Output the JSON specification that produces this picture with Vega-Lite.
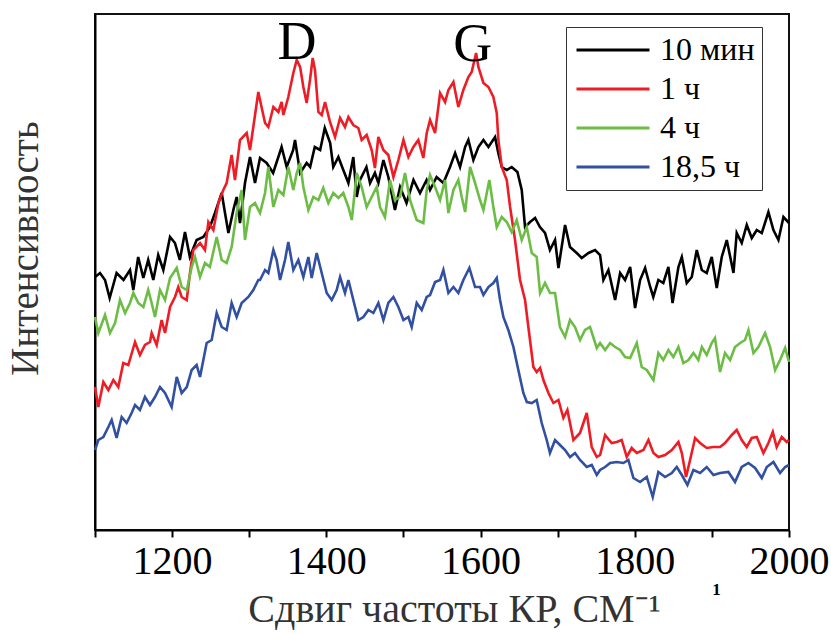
{
  "$schema": "https://vega.github.io/schema/vega-lite/v6.json",
  "width": 694,
  "height": 516,
  "autosize": {"type": "none"},
  "padding": {"left": 95, "top": 14, "right": 42, "bottom": 104},
  "background": "white",
  "config": {
    "font": "Liberation Serif",
    "view": {"stroke": "#111", "strokeWidth": 2}
  },
  "datasets": {
    "k": [
      {"x":1100,"y":253},{"x":1106.5,"y":257},{"x":1113,"y":250},{"x":1119,"y":232},{"x":1128,"y":257},{"x":1137,"y":250},{"x":1145.4,"y":260},{"x":1149.7,"y":240},{"x":1156,"y":273},{"x":1162.7,"y":252},{"x":1169,"y":270},{"x":1175.6,"y":250},{"x":1182,"y":275},{"x":1188.6,"y":260},{"x":1197.3,"y":293},{"x":1203.7,"y":287},{"x":1210,"y":270},{"x":1216.7,"y":298},{"x":1223,"y":273},{"x":1231.8,"y":290},{"x":1240.5,"y":293},{"x":1249,"y":303},{"x":1255.6,"y":317},{"x":1264.3,"y":337},{"x":1268.6,"y":317},{"x":1273,"y":297},{"x":1279.4,"y":320},{"x":1283.7,"y":333},{"x":1288,"y":307},{"x":1294.5,"y":347},{"x":1301,"y":373},{"x":1307.5,"y":347},
      {"x":1314,"y":372},{"x":1322.6,"y":367},{"x":1331,"y":357},{"x":1342,"y":383},{"x":1348.6,"y":363},{"x":1357,"y":380},{"x":1359.4,"y":390},{"x":1366,"y":357},{"x":1374.5,"y":367},{"x":1379,"y":363},{"x":1385,"y":383},{"x":1392,"y":380},{"x":1398,"y":402},{"x":1405,"y":387},{"x":1409,"y":363},{"x":1415.6,"y":373},{"x":1422,"y":360},{"x":1428.6,"y":347},{"x":1435,"y":373},{"x":1439.4,"y":333},{"x":1443.7,"y":350},{"x":1452,"y":363},{"x":1456.7,"y":347},{"x":1463,"y":357},{"x":1467.5,"y":347},{"x":1474,"y":370},{"x":1480.4,"y":353},{"x":1489,"y":320},{"x":1495.6,"y":343},{"x":1504,"y":327},{"x":1513,"y":350},{"x":1521.5,"y":337},{"x":1530,"y":350},
      {"x":1534.5,"y":340},{"x":1543,"y":353},{"x":1551.8,"y":347},{"x":1560.4,"y":363},{"x":1567,"y":377},{"x":1573.4,"y":363},{"x":1580,"y":383},{"x":1584.2,"y":390},{"x":1590.7,"y":370},{"x":1597.2,"y":383},{"x":1603.7,"y":390},{"x":1610.2,"y":383},{"x":1618.8,"y":393},{"x":1623,"y":377},{"x":1627.5,"y":363},{"x":1634,"y":360},{"x":1640.4,"y":363},{"x":1647.8,"y":358},{"x":1653.4,"y":340},{"x":1657.7,"y":303},{"x":1664.2,"y":308},{"x":1670.7,"y":312},{"x":1677,"y":303},{"x":1683.6,"y":297},{"x":1690,"y":280},{"x":1696.6,"y":290},{"x":1701,"y":262},{"x":1709.6,"y":305},{"x":1716,"y":283},{"x":1724.7,"y":277},{"x":1731.2,"y":272},{"x":1740,"y":277},{"x":1748.5,"y":280},
      {"x":1755,"y":275},{"x":1759.3,"y":250},{"x":1765.8,"y":260},{"x":1774.5,"y":230},{"x":1781,"y":257},{"x":1787.4,"y":250},{"x":1794,"y":263},{"x":1800.4,"y":222},{"x":1806.9,"y":250},{"x":1813.4,"y":262},{"x":1820,"y":243},{"x":1824,"y":233},{"x":1830.6,"y":250},{"x":1837,"y":247},{"x":1843.6,"y":263},{"x":1849,"y":227},{"x":1856.6,"y":263},{"x":1861,"y":273},{"x":1867.4,"y":247},{"x":1873.9,"y":253},{"x":1880.4,"y":280},{"x":1886.9,"y":260},{"x":1893.3,"y":257},{"x":1899.8,"y":273},{"x":1906.3,"y":242},{"x":1912.8,"y":273},{"x":1919.3,"y":290},{"x":1928,"y":257},{"x":1932.2,"y":297},{"x":1938.7,"y":287},{"x":1945.2,"y":305},{"x":1951.7,"y":292},{"x":1958.2,"y":300},{"x":1964.7,"y":297},{"x":1973.3,"y":318},{"x":1979.8,"y":300},{"x":1986.3,"y":290},{"x":1992.8,"y":313},{"x":2000,"y":307}
    ],
    "r": [
      {"x":1100,"y":143},{"x":1104.3,"y":123},{"x":1110.8,"y":148},{"x":1117.3,"y":140},{"x":1123.8,"y":150},{"x":1130.2,"y":143},{"x":1136.7,"y":167},{"x":1143.2,"y":165},{"x":1151.9,"y":188},{"x":1158.3,"y":175},{"x":1164.8,"y":185},{"x":1171.3,"y":188},{"x":1173.5,"y":197},{"x":1180,"y":185},{"x":1186.4,"y":210},{"x":1190.8,"y":197},{"x":1197.3,"y":223},{"x":1203.7,"y":233},{"x":1208,"y":243},{"x":1212.4,"y":233},{"x":1218.9,"y":230},{"x":1223.2,"y":257},{"x":1227.5,"y":280},{"x":1236.2,"y":287},{"x":1242.6,"y":280},{"x":1247,"y":308},{"x":1253.5,"y":300},{"x":1260,"y":327},{"x":1266.4,"y":340},{"x":1270.7,"y":347},{"x":1277.2,"y":375},{"x":1281.5,"y":350},{"x":1288,"y":390},{"x":1296.7,"y":397},{"x":1301,"y":380},{"x":1305.3,"y":403},{"x":1311.8,"y":438},
      {"x":1314,"y":430},{"x":1320.5,"y":407},{"x":1324.8,"y":403},{"x":1331.3,"y":423},{"x":1337.8,"y":418},{"x":1342,"y":428},{"x":1344.3,"y":415},{"x":1350.7,"y":433},{"x":1357.2,"y":457},{"x":1361.6,"y":470},{"x":1366,"y":463},{"x":1370.2,"y":443},{"x":1374.5,"y":427},{"x":1378.8,"y":450},{"x":1382.3,"y":472},{"x":1385.3,"y":460},{"x":1389.7,"y":418},{"x":1394,"y":415},{"x":1398.3,"y":428},{"x":1404.8,"y":408},{"x":1411.3,"y":393},{"x":1417.8,"y":412},{"x":1424.2,"y":403},{"x":1428.6,"y":413},{"x":1435,"y":405},{"x":1441.5,"y":402},{"x":1445.8,"y":390},{"x":1452.3,"y":395},{"x":1458.8,"y":380},{"x":1463,"y":362},{"x":1467.5,"y":393},{"x":1474,"y":380},{"x":1480.4,"y":375},{"x":1487,"y":353},{"x":1493.4,"y":370},{"x":1500,"y":390},{"x":1506.4,"y":373},{"x":1512.9,"y":383},{"x":1519.3,"y":390},{"x":1525.8,"y":372},{"x":1530.2,"y":397},
      {"x":1534.5,"y":410},{"x":1541,"y":397},{"x":1547.5,"y":437},{"x":1554,"y":428},{"x":1558.3,"y":440},{"x":1564.8,"y":448},{"x":1571.2,"y":423},{"x":1577.7,"y":440},{"x":1584.2,"y":453},{"x":1588.5,"y":458},{"x":1594.2,"y":477},{"x":1597.2,"y":463},{"x":1603.7,"y":447},{"x":1610.2,"y":443},{"x":1616.6,"y":433},{"x":1621,"y":417},{"x":1623.1,"y":390},{"x":1627.5,"y":363},{"x":1634,"y":350},{"x":1638.3,"y":323},{"x":1644.7,"y":290},{"x":1651.2,"y":250},{"x":1657.7,"y":230},{"x":1662,"y":203},{"x":1668.5,"y":163},{"x":1672.8,"y":158},{"x":1677.2,"y":162},{"x":1681.5,"y":150},{"x":1688,"y":137},{"x":1694.5,"y":127},{"x":1701,"y":130},{"x":1707.4,"y":112},{"x":1712.6,"y":120},{"x":1720.4,"y":90},{"x":1729,"y":97},{"x":1737.7,"y":117},{"x":1744.2,"y":83},{"x":1750.7,"y":73},
      {"x":1755,"y":75},{"x":1761.5,"y":95},{"x":1770,"y":87},{"x":1776.6,"y":88},{"x":1783,"y":90},{"x":1789.6,"y":73},{"x":1796,"y":82},{"x":1802.6,"y":77},{"x":1811.2,"y":80},{"x":1817.7,"y":90},{"x":1824.2,"y":77},{"x":1830.6,"y":73},{"x":1839.3,"y":75},{"x":1848,"y":80},{"x":1856.6,"y":88},{"x":1861,"y":77},{"x":1866.5,"y":53},{"x":1871.7,"y":70},{"x":1878.2,"y":92},{"x":1884.7,"y":87},{"x":1893.3,"y":82},{"x":1902,"y":83},{"x":1910.6,"y":83},{"x":1917,"y":87},{"x":1925.8,"y":95},{"x":1932.2,"y":100},{"x":1938.7,"y":90},{"x":1945.2,"y":83},{"x":1951.7,"y":92},{"x":1958.2,"y":93},{"x":1966.8,"y":77},{"x":1973.3,"y":87},{"x":1979,"y":98},{"x":1984,"y":83},{"x":1990.6,"y":93},{"x":1997,"y":88},{"x":2000,"y":90}
    ],
    "g": [
      {"x":1100,"y":213},{"x":1104.3,"y":197},{"x":1113,"y":215},{"x":1119.4,"y":197},{"x":1126,"y":207},{"x":1132.4,"y":230},{"x":1139,"y":217},{"x":1145.4,"y":227},{"x":1149.7,"y":237},{"x":1156.2,"y":227},{"x":1162.7,"y":223},{"x":1169,"y":240},{"x":1173.5,"y":227},{"x":1177.8,"y":213},{"x":1184.3,"y":240},{"x":1190.8,"y":230},{"x":1197.3,"y":252},{"x":1206,"y":262},{"x":1212.4,"y":243},{"x":1219,"y":240},{"x":1225.4,"y":263},{"x":1229.7,"y":273},{"x":1236.2,"y":253},{"x":1242.6,"y":267},{"x":1249,"y":263},{"x":1257.8,"y":293},{"x":1264.3,"y":270},{"x":1270.7,"y":267},{"x":1277.2,"y":283},{"x":1283.7,"y":317},{"x":1290.2,"y":340},{"x":1294.5,"y":290},{"x":1301,"y":323},{"x":1307.5,"y":327},
      {"x":1314,"y":317},{"x":1320.5,"y":337},{"x":1324.8,"y":363},{"x":1331.3,"y":323},{"x":1337.8,"y":340},{"x":1344.3,"y":335},{"x":1350.7,"y":363},{"x":1357.2,"y":340},{"x":1361.6,"y":357},{"x":1366,"y":367},{"x":1370.2,"y":343},{"x":1376.7,"y":320},{"x":1383.2,"y":333},{"x":1389.7,"y":330},{"x":1396,"y":342},{"x":1402.6,"y":327},{"x":1409,"y":337},{"x":1415.6,"y":332},{"x":1422,"y":337},{"x":1428.6,"y":323},{"x":1433,"y":310},{"x":1439.4,"y":357},{"x":1445.8,"y":343},{"x":1452.3,"y":323},{"x":1458.8,"y":333},{"x":1465.3,"y":343},{"x":1469.6,"y":323},{"x":1476,"y":313},{"x":1482.6,"y":350},{"x":1489,"y":330},{"x":1495.6,"y":333},{"x":1502,"y":357},{"x":1508.5,"y":330},{"x":1517.2,"y":310},{"x":1525.8,"y":307},{"x":1530.2,"y":340},
      {"x":1534.5,"y":355},{"x":1541,"y":343},{"x":1547.5,"y":330},{"x":1554,"y":350},{"x":1558.3,"y":317},{"x":1564.8,"y":340},{"x":1571.2,"y":350},{"x":1575.6,"y":333},{"x":1580,"y":318},{"x":1586.4,"y":363},{"x":1592.9,"y":347},{"x":1599.3,"y":330},{"x":1603.7,"y":320},{"x":1611.4,"y":350},{"x":1616.6,"y":323},{"x":1621,"y":303},{"x":1627.5,"y":313},{"x":1634,"y":308},{"x":1640.4,"y":298},{"x":1646.9,"y":310},{"x":1653.4,"y":290},{"x":1659.9,"y":303},{"x":1666.4,"y":277},{"x":1672.8,"y":273},{"x":1677.2,"y":237},{"x":1683.6,"y":247},{"x":1690.1,"y":237},{"x":1696.6,"y":237},{"x":1703,"y":203},{"x":1709.6,"y":193},{"x":1716,"y":210},{"x":1722.5,"y":203},{"x":1729,"y":190},{"x":1735.5,"y":200},{"x":1742,"y":203},{"x":1750.7,"y":182},
      {"x":1755,"y":187},{"x":1761.5,"y":180},{"x":1768,"y":187},{"x":1774.5,"y":183},{"x":1781,"y":180},{"x":1787.4,"y":173},{"x":1794,"y":172},{"x":1802.6,"y":187},{"x":1809,"y":163},{"x":1815.5,"y":160},{"x":1824.2,"y":150},{"x":1830.6,"y":177},{"x":1837,"y":170},{"x":1843.6,"y":180},{"x":1850,"y":173},{"x":1856.6,"y":183},{"x":1863,"y":167},{"x":1869.6,"y":170},{"x":1876,"y":177},{"x":1882.5,"y":170},{"x":1887,"y":183},{"x":1893.3,"y":175},{"x":1899.8,"y":187},{"x":1904,"y":192},{"x":1910.6,"y":158},{"x":1917,"y":177},{"x":1923.6,"y":170},{"x":1930,"y":183},{"x":1936.6,"y":187},{"x":1943,"y":190},{"x":1947.4,"y":200},{"x":1953.9,"y":177},{"x":1960.3,"y":183},{"x":1969,"y":197},{"x":1975.5,"y":183},{"x":1982,"y":160},{"x":1988.4,"y":170},{"x":1995,"y":182},{"x":2000,"y":168}
    ],
    "b": [
      {"x":1100,"y":80},{"x":1104.3,"y":90},{"x":1110.8,"y":93},{"x":1117.3,"y":103},{"x":1121.6,"y":110},{"x":1128,"y":92},{"x":1134.6,"y":113},{"x":1141,"y":107},{"x":1147.5,"y":117},{"x":1151.9,"y":125},{"x":1158.3,"y":120},{"x":1164.8,"y":133},{"x":1171.3,"y":125},{"x":1177.8,"y":133},{"x":1184.3,"y":143},{"x":1190.8,"y":137},{"x":1199.4,"y":123},{"x":1206,"y":153},{"x":1212.4,"y":137},{"x":1219,"y":143},{"x":1225.4,"y":160},{"x":1231.8,"y":165},{"x":1236.2,"y":153},{"x":1244.8,"y":187},{"x":1251.3,"y":190},{"x":1257.8,"y":217},{"x":1264.3,"y":203},{"x":1270.7,"y":200},{"x":1277.2,"y":227},{"x":1283.7,"y":213},{"x":1290.2,"y":227},{"x":1298.8,"y":233},{"x":1305.3,"y":240},{"x":1311.8,"y":250},
      {"x":1314,"y":250},{"x":1320.5,"y":260},{"x":1324.8,"y":257},{"x":1331.3,"y":280},{"x":1335.6,"y":270},{"x":1340,"y":250},{"x":1346.4,"y":270},{"x":1350.7,"y":288},{"x":1357.2,"y":260},{"x":1363.7,"y":270},{"x":1370.2,"y":253},{"x":1376.7,"y":273},{"x":1381,"y":252},{"x":1387.5,"y":277},{"x":1394,"y":257},{"x":1400.5,"y":237},{"x":1407,"y":230},{"x":1413.4,"y":240},{"x":1417.8,"y":253},{"x":1424.2,"y":237},{"x":1428.6,"y":250},{"x":1435,"y":230},{"x":1441.5,"y":210},{"x":1448,"y":213},{"x":1454.5,"y":220},{"x":1461,"y":217},{"x":1467.5,"y":227},{"x":1474,"y":210},{"x":1480.4,"y":227},{"x":1487,"y":233},{"x":1493.4,"y":223},{"x":1500,"y":210},{"x":1506.4,"y":213},{"x":1510.7,"y":203},{"x":1517.2,"y":227},{"x":1523.7,"y":220},{"x":1530.2,"y":233},
      {"x":1534.5,"y":235},{"x":1541,"y":248},{"x":1547.5,"y":250},{"x":1551.8,"y":260},{"x":1558.3,"y":237},{"x":1564.8,"y":243},{"x":1571.2,"y":237},{"x":1577.7,"y":250},{"x":1585.5,"y":262},{"x":1592.9,"y":243},{"x":1599.3,"y":243},{"x":1603.7,"y":235},{"x":1610.2,"y":243},{"x":1616.6,"y":247},{"x":1621,"y":252},{"x":1625.3,"y":230},{"x":1629.6,"y":213},{"x":1636,"y":200},{"x":1642.6,"y":183},{"x":1649,"y":160},{"x":1655.5,"y":137},{"x":1660,"y":128},{"x":1666.4,"y":127},{"x":1672.8,"y":130},{"x":1679.3,"y":107},{"x":1685.8,"y":90},{"x":1690,"y":77},{"x":1696.6,"y":90},{"x":1703,"y":85},{"x":1709.6,"y":80},{"x":1716,"y":73},{"x":1722.5,"y":77},{"x":1729,"y":70},{"x":1737.7,"y":63},{"x":1744.2,"y":65},{"x":1750.7,"y":55},
      {"x":1755,"y":60},{"x":1761.5,"y":63},{"x":1768,"y":67},{"x":1776.6,"y":68},{"x":1785.3,"y":67},{"x":1791.7,"y":70},{"x":1798.2,"y":52},{"x":1806.9,"y":48},{"x":1815.5,"y":53},{"x":1823.3,"y":33},{"x":1830.6,"y":58},{"x":1839.3,"y":53},{"x":1848,"y":57},{"x":1854.4,"y":63},{"x":1861,"y":55},{"x":1868.3,"y":45},{"x":1876,"y":60},{"x":1884.7,"y":57},{"x":1893.3,"y":63},{"x":1902,"y":55},{"x":1910.6,"y":57},{"x":1921.4,"y":58},{"x":1930,"y":48},{"x":1938.7,"y":63},{"x":1947.4,"y":67},{"x":1956,"y":62},{"x":1964.7,"y":52},{"x":1971.2,"y":63},{"x":1979.8,"y":68},{"x":1988.4,"y":57},{"x":1995,"y":63},{"x":2000,"y":65}
    ],
    "labels": [
      {"x":1362,"y":471,"t":"D"},
      {"x":1590,"y":469,"t":"G"}
    ],
    "stray": [
      {"x":1906,"y":-60,"t":"1"}
    ]
  },
  "encoding": {
    "x": {
      "field": "x", "type": "quantitative",
      "scale": {"domain": [1100, 2000], "nice": false, "zero": false},
      "axis": {
        "values": [1100,1200,1300,1400,1500,1600,1700,1800,1900,2000],
        "format": "d",
        "labelExpr": "datum.value % 200 == 0 ? datum.label : ''",
        "labelFont": "Liberation Serif", "labelFontSize": 40, "labelColor": "#000",
        "labelPadding": 4, "labelFlush": false, "labelOverlap": false,
        "tickColor": "#000", "tickWidth": 2, "tickSize": 7,
        "domainColor": "#000", "domainWidth": 2, "grid": false,
        "title": "Сдвиг частоты КР, СМ⁻¹",
        "titleFont": "Liberation Serif", "titleFontSize": 40, "titleFontWeight": "normal",
        "titleColor": "#333", "titlePadding": 8, "titleX": 359
      }
    },
    "y": {
      "field": "y", "type": "quantitative",
      "scale": {"domain": [0, 516], "nice": false, "zero": false},
      "axis": {
        "ticks": false, "labels": false, "grid": false,
        "domainColor": "#000", "domainWidth": 2,
        "title": "Интенсивность",
        "titleFont": "Liberation Serif", "titleFontSize": 39, "titleFontWeight": "normal",
        "titleColor": "#333", "titlePadding": 50, "titleY": 234
      }
    }
  },
  "layer": [
    {
      "data": {"name": "k"},
      "mark": {"type": "line", "strokeWidth": 2.6},
      "encoding": {
        "color": {
          "datum": "10 мин", "type": "nominal",
          "scale": {"domain": ["10 мин", "1 ч", "4 ч", "18,5 ч"], "range": ["#000000", "#ee1d25", "#6cbd45", "#3150a2"]},
          "legend": {
            "orient": "none", "legendX": 471, "legendY": 13, "title": null,
            "symbolType": "M-4,0H4", "symbolSize": 333, "symbolStrokeWidth": 2.8,
            "symbolOffset": 24, "labelOffset": 31,
            "labelFont": "Liberation Serif", "labelFontSize": 32, "labelColor": "#000",
            "rowPadding": 7, "padding": 7, "strokeColor": "#333", "labelLimit": 300
          }
        }
      }
    },
    {"data": {"name": "r"}, "mark": {"type": "line", "strokeWidth": 2.6}, "encoding": {"color": {"datum": "1 ч", "type": "nominal"}}},
    {"data": {"name": "g"}, "mark": {"type": "line", "strokeWidth": 2.6}, "encoding": {"color": {"datum": "4 ч", "type": "nominal"}}},
    {"data": {"name": "b"}, "mark": {"type": "line", "strokeWidth": 2.6}, "encoding": {"color": {"datum": "18,5 ч", "type": "nominal"}}},
    {
      "data": {"name": "labels"},
      "mark": {"type": "text", "font": "Liberation Serif", "fontSize": 54, "align": "center", "baseline": "alphabetic", "color": "#000"},
      "encoding": {"text": {"field": "t"}}
    },
    {
      "data": {"name": "stray"},
      "mark": {"type": "text", "font": "Liberation Serif", "fontSize": 17, "fontWeight": "bold", "align": "center", "baseline": "middle", "color": "#000"},
      "encoding": {"text": {"field": "t"}}
    }
  ]
}
